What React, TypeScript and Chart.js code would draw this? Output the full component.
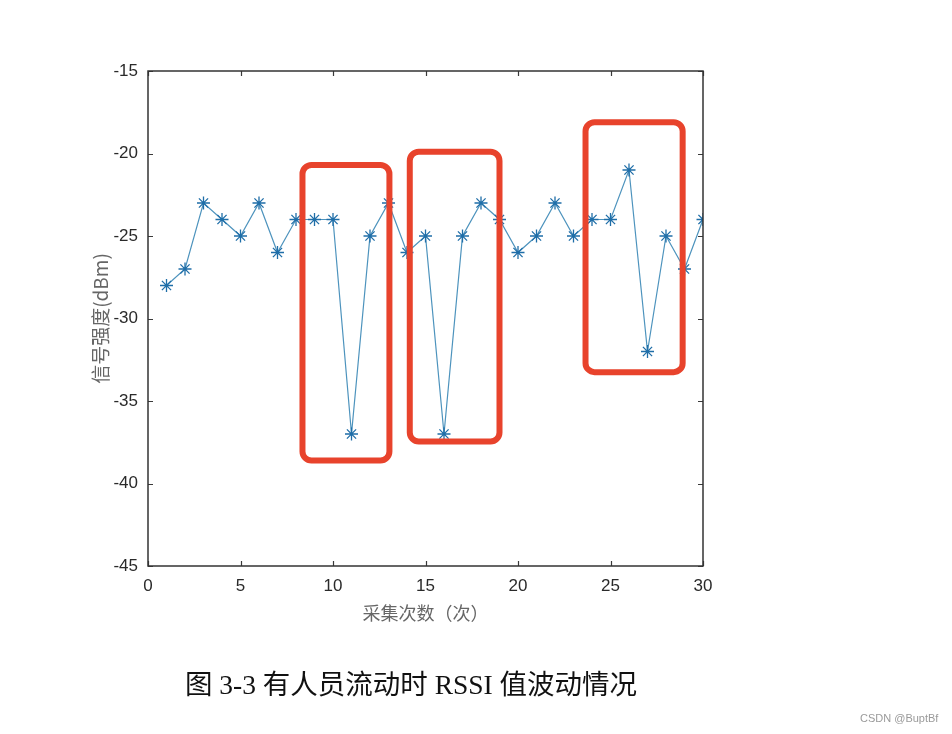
import React, { useEffect, useRef } from "react";
import { Chart, registerables } from "chart.js";

Chart.register(...registerables);

// ---- data ----
const sampleIndex = [1, 2, 3, 4, 5, 6, 7, 8, 9, 10, 11, 12, 13, 14, 15, 16, 17, 18, 19, 20, 21, 22, 23, 24, 25, 26, 27, 28, 29, 30];
const rssiValues = [-28, -27, -23, -24, -25, -23, -26, -24, -24, -24, -37, -25, -23, -26, -25, -37, -25, -23, -24, -26, -25, -23, -25, -24, -24, -21, -32, -25, -27, -24];
const xTickValues = [0, 5, 10, 15, 20, 25, 30];
const yTickValues = [-45, -40, -35, -30, -25, -20, -15];
// highlight boxes (data units)
const boxXStart = [8.35, 14.15, 23.65];
const boxXEnd = [13.05, 19.0, 28.9];
const boxYTop = [-20.7, -19.9, -18.1];
const boxYBottom = [-38.6, -37.45, -33.25];

const xAxisTitle = "采集次数（次）";
const yAxisTitle = "信号强度(dBm)";
const captionText = "图 3-3 有人员流动时 RSSI 值波动情况";
const watermarkText = "CSDN @BuptBf";

const framePlugin = {
  id: "frameTicks",
  afterDraw(chart: any) {
    const { ctx, chartArea, scales } = chart;
    const { left, right, top, bottom } = chartArea;
    const xs = scales.x;
    const ys = scales.y;
    ctx.save();
    ctx.strokeStyle = "#3a3a3a";
    ctx.lineWidth = 1.2;
    ctx.beginPath();
    const tl = 5;
    xTickValues.forEach((v) => {
      const px = Math.round(xs.getPixelForValue(v)) + 0.5;
      ctx.moveTo(px, bottom);
      ctx.lineTo(px, bottom - tl);
      ctx.moveTo(px, top);
      ctx.lineTo(px, top + tl);
    });
    yTickValues.forEach((v) => {
      const py = Math.round(ys.getPixelForValue(v)) + 0.5;
      ctx.moveTo(left, py);
      ctx.lineTo(left + tl, py);
      ctx.moveTo(right, py);
      ctx.lineTo(right - tl, py);
    });
    ctx.stroke();
    ctx.lineWidth = 1.5;
    ctx.strokeStyle = "#333333";
    ctx.strokeRect(left, top, right - left, bottom - top);
    // highlight boxes
    ctx.strokeStyle = "#e8432c";
    ctx.lineWidth = 6;
    boxXStart.forEach((_, i) => {
      const x0 = xs.getPixelForValue(boxXStart[i]);
      const x1 = xs.getPixelForValue(boxXEnd[i]);
      const y0 = ys.getPixelForValue(boxYTop[i]);
      const y1 = ys.getPixelForValue(boxYBottom[i]);
      ctx.beginPath();
      (ctx as any).roundRect(x0, y0, x1 - x0, y1 - y0, 9);
      ctx.stroke();
    });
    ctx.restore();
  },
};

export default function App() {
  const canvasRef = useRef<HTMLCanvasElement | null>(null);

  useEffect(() => {
    const canvas = canvasRef.current;
    if (!canvas) return;
    const chart = new Chart(canvas, {
      type: "line",
      data: {
        datasets: [
          {
            data: sampleIndex.map((x, i) => ({ x, y: rssiValues[i] })),
            borderColor: "#4d93bd",
            borderWidth: 1.2,
            pointStyle: "star",
            pointRadius: 6.5,
            pointBorderWidth: 1.3,
            pointBorderColor: "#1f6ea8",
            pointBackgroundColor: "#1f6ea8",
            tension: 0,
            fill: false,
          },
        ],
      },
      options: {
        responsive: false,
        animation: false,
        layout: { padding: { left: 0, top: 71, right: 249, bottom: 104 } },
        plugins: {
          legend: { display: false },
          tooltip: { enabled: false },
        },
        scales: {
          x: {
            type: "linear",
            min: 0,
            max: 30,
            afterFit: (s: any) => {
              s.height = 64;
            },
            afterBuildTicks: (s: any) => {
              s.ticks = xTickValues.map((v) => ({ value: v }));
            },
            grid: { display: false, drawTicks: false },
            border: { display: false },
            ticks: {
              padding: 10,
              color: "#2a2a2a",
              font: { family: "'Liberation Sans', Arial, sans-serif", size: 17 },
            },
            title: {
              display: true,
              text: xAxisTitle,
              color: "#666666",
              font: { family: "'Noto Sans CJK SC', sans-serif", size: 18 },
              padding: { top: 0, bottom: 6 },
            },
          },
          y: {
            type: "linear",
            min: -45,
            max: -15,
            afterFit: (s: any) => {
              s.width = 148;
            },
            afterBuildTicks: (s: any) => {
              s.ticks = yTickValues.map((v) => ({ value: v }));
            },
            grid: { display: false, drawTicks: false },
            border: { display: false },
            ticks: {
              padding: 10,
              color: "#2a2a2a",
              font: { family: "'Liberation Sans', Arial, sans-serif", size: 17 },
            },
            title: {
              display: true,
              text: yAxisTitle,
              color: "#666666",
              font: { family: "'Noto Sans CJK SC', sans-serif", size: 19 },
              padding: { top: 89, bottom: 0 },
            },
          },
        },
      },
      plugins: [framePlugin],
    });
    return () => chart.destroy();
  }, []);

  return (
    <div
      style={{
        position: "absolute",
        left: 0,
        top: 0,
        width: 952,
        height: 734,
        background: "#ffffff",
        overflow: "hidden",
      }}
    >
      <canvas ref={canvasRef} width={952} height={734} style={{ display: "block" }} />
      <div
        style={{
          position: "absolute",
          left: 0,
          top: 669,
          width: 822,
          textAlign: "center",
          fontFamily: "'Liberation Serif', 'Noto Sans CJK SC', serif",
          fontSize: 27.5,
          lineHeight: "32px",
          color: "#111111",
        }}
      >
        {captionText}
      </div>
      <div
        style={{
          position: "absolute",
          left: 860,
          top: 711,
          fontFamily: "'Liberation Sans', Arial, sans-serif",
          fontSize: 11,
          lineHeight: "14px",
          color: "#9a9a9a",
        }}
      >
        {watermarkText}
      </div>
    </div>
  );
}
